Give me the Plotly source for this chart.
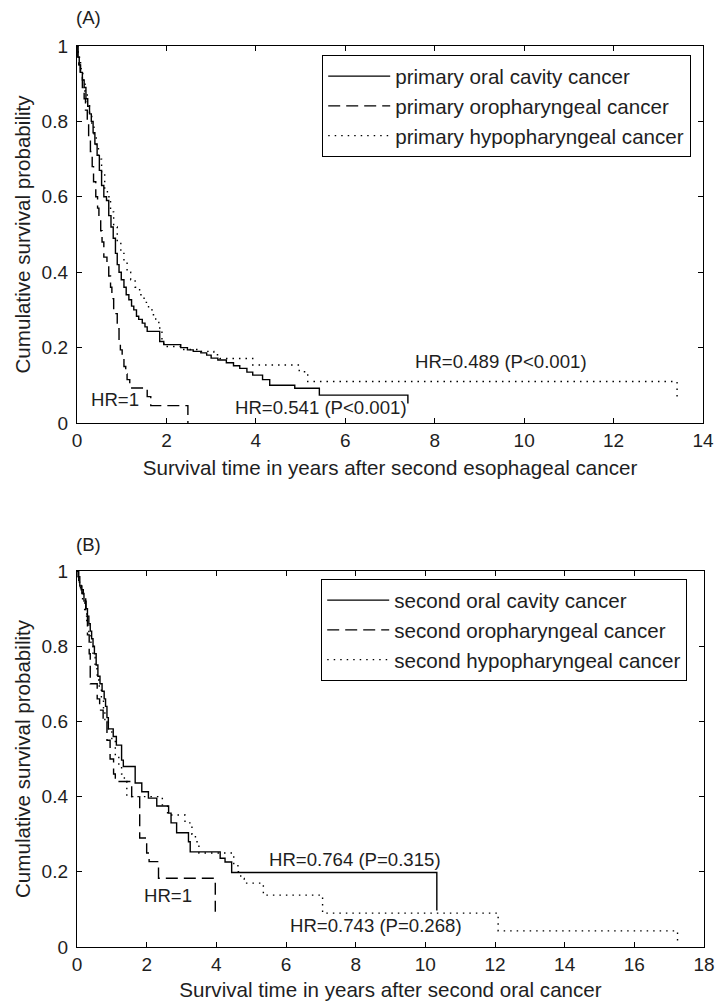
import plotly.graph_objects as go

# ---------------- Panel A data (primary cancer groups) ----------------
a_oral_t = [0, 0.02, 0.05, 0.08, 0.12, 0.16, 0.2, 0.24, 0.28, 0.32, 0.36, 0.4, 0.45, 0.5, 0.55, 0.6,
            0.66, 0.71, 0.76, 0.81, 0.86, 0.9, 0.94, 0.99, 1.05, 1.1, 1.16, 1.22, 1.27, 1.33, 1.38,
            1.46, 1.52, 1.57, 1.85, 1.94, 2.32, 2.47, 2.6, 2.77, 2.9, 3.0, 3.15, 3.34, 3.5, 3.64,
            3.8, 3.93, 4.15, 4.31, 4.87, 5.42, 7.4]
a_oral_s = [1, 0.97, 0.95, 0.93, 0.91, 0.89, 0.86, 0.84, 0.82, 0.80, 0.77, 0.74, 0.71, 0.67, 0.63, 0.60,
            0.59, 0.55, 0.52, 0.49, 0.45, 0.42, 0.40, 0.38, 0.36, 0.34, 0.327, 0.31, 0.30, 0.283, 0.275,
            0.265, 0.255, 0.243, 0.216, 0.208, 0.200, 0.194, 0.19, 0.186, 0.18, 0.172, 0.167, 0.16, 0.152, 0.145,
            0.135, 0.127, 0.115, 0.1, 0.092, 0.074, 0.052]

a_oro_t = [0, 0.02, 0.04, 0.07, 0.12, 0.16, 0.19, 0.23, 0.26, 0.3, 0.34, 0.37, 0.42, 0.46, 0.49, 0.53,
           0.56, 0.6, 0.67, 0.71, 0.75, 0.78, 0.82, 0.9, 0.94, 0.97, 1.01, 1.05, 1.09, 1.12, 1.18,
           1.57, 1.65, 2.48]
a_oro_s = [1, 0.97, 0.95, 0.92, 0.89, 0.86, 0.83, 0.8, 0.76, 0.72, 0.68, 0.64, 0.6, 0.57, 0.54, 0.51,
           0.48, 0.44, 0.42, 0.39, 0.36, 0.33, 0.29, 0.25, 0.22, 0.194, 0.17, 0.15, 0.13, 0.115, 0.093,
           0.07, 0.046, 0.0]

a_hypo_t = [0, 0.03, 0.08, 0.13, 0.18, 0.23, 0.28, 0.33, 0.38, 0.43, 0.48, 0.55, 0.62, 0.68, 0.75,
            0.82, 0.9, 0.98, 1.05, 1.12, 1.2, 1.3, 1.4, 1.5, 1.6, 1.68, 1.76, 1.83, 1.9, 1.94, 2.35,
            2.77, 3.06, 3.2, 3.93, 4.97, 5.16, 13.42]
a_hypo_s = [1, 0.97, 0.94, 0.91, 0.88, 0.85, 0.82, 0.79, 0.76, 0.73, 0.70, 0.66, 0.62, 0.6, 0.56,
            0.52, 0.48, 0.45, 0.43, 0.40, 0.38, 0.36, 0.34, 0.32, 0.30, 0.287, 0.27, 0.252, 0.22, 0.203, 0.195,
            0.19, 0.181, 0.171, 0.154, 0.136, 0.11, 0.057]

# ---------------- Panel B data (second cancer groups) ----------------
b_oral_t = [0, 0.03, 0.08, 0.14, 0.2, 0.26, 0.3, 0.34, 0.38, 0.42, 0.46, 0.5, 0.55, 0.6, 0.66, 0.72,
            0.78, 0.82, 0.86, 0.9, 1.04, 1.13, 1.28, 1.33, 1.67, 1.86, 2.05, 2.29, 2.63, 2.7, 2.86,
            3.2, 3.25, 4.11, 4.25, 4.44, 10.33]
b_oral_s = [1, 0.985, 0.96, 0.94, 0.92, 0.9, 0.88, 0.86, 0.84, 0.82, 0.8, 0.78, 0.75, 0.72, 0.70, 0.68,
            0.66, 0.64, 0.61, 0.58, 0.56, 0.537, 0.497, 0.48, 0.436, 0.413, 0.396, 0.375, 0.356, 0.33, 0.304,
            0.28, 0.253, 0.236, 0.226, 0.198, 0.097]

b_oro_t = [0, 0.05, 0.12, 0.18, 0.25, 0.3, 0.35, 0.38, 0.58, 0.65, 0.75, 0.86, 0.95, 1.05, 1.1,
           1.57, 1.8, 2.0, 2.07, 2.34, 3.97]
b_oro_s = [1, 0.97, 0.95, 0.93, 0.88, 0.83, 0.78, 0.70, 0.66, 0.63, 0.6, 0.55, 0.5, 0.46, 0.44,
           0.40, 0.29, 0.25, 0.227, 0.183, 0.094]

b_hypo_t = [0, 0.04, 0.1, 0.16, 0.22, 0.28, 0.34, 0.4, 0.46, 0.52, 0.58, 0.64, 0.7, 0.76, 0.8, 0.9,
            1.0, 1.1, 1.2, 1.28, 1.36, 1.43, 2.45, 2.6, 3.1, 3.3, 3.4, 3.5, 4.5, 4.62, 4.7, 4.8, 5.35,
            7.05, 12.09, 17.24]
b_hypo_s = [1, 0.97, 0.95, 0.92, 0.89, 0.86, 0.83, 0.8, 0.77, 0.74, 0.71, 0.69, 0.66, 0.63, 0.6, 0.58,
            0.55, 0.51, 0.48, 0.46, 0.44, 0.40, 0.378, 0.351, 0.33, 0.30, 0.28, 0.25, 0.22, 0.2, 0.182, 0.17, 0.138,
            0.09, 0.043, 0.014]

# Text
a_names = ["primary oral cavity cancer", "primary oropharyngeal cancer", "primary hypopharyngeal cancer"]
b_names = ["second oral cavity cancer", "second oropharyngeal cancer", "second hypopharyngeal cancer"]
a_xtitle = "Survival time in years after second esophageal cancer"
b_xtitle = "Survival time in years after second oral cancer"
ytitle = "Cumulative survival probability"
a_xticks = [0, 2, 4, 6, 8, 10, 12, 14]
b_xticks = [0, 2, 4, 6, 8, 10, 12, 14, 16, 18]
yticks = [0, 0.2, 0.4, 0.6, 0.8, 1]
ytick_text = ["0", "0.2", "0.4", "0.6", "0.8", "1"]

a_hr_labels = ["HR=1", "HR=0.541 (P<0.001)", "HR=0.489 (P<0.001)"]
a_hr_pos = [(0.85, 0.061), (5.45, 0.042), (9.49, 0.162)]
b_hr_labels = ["HR=1", "HR=0.764 (P=0.315)", "HR=0.743 (P=0.268)"]
b_hr_pos = [(2.6, 0.137), (7.99, 0.233), (8.57, 0.057)]

# ---------------- figure ----------------
W, H = 715, 1004
FONT = "Liberation Sans, Arial, sans-serif"
TXT = "#1e1e1e"
dashes = ["solid", "12px,6px", "1.5px,5px"]

fig = go.Figure()

for (t, s), name, d in zip([(a_oral_t, a_oral_s), (a_oro_t, a_oro_s), (a_hypo_t, a_hypo_s)], a_names, dashes):
    fig.add_trace(go.Scatter(x=t, y=s, mode="lines", name=name, line_shape="hv",
                             line=dict(color="black", width=1.4, dash=d),
                             xaxis="x", yaxis="y", legend="legend", hoverinfo="skip"))
for (t, s), name, d in zip([(b_oral_t, b_oral_s), (b_oro_t, b_oro_s), (b_hypo_t, b_hypo_s)], b_names, dashes):
    fig.add_trace(go.Scatter(x=t, y=s, mode="lines", name=name, line_shape="hv",
                             line=dict(color="black", width=1.4, dash=d),
                             xaxis="x2", yaxis="y2", legend="legend2", hoverinfo="skip"))

def px(xpix):
    return xpix / W

def py(ypix):
    return 1 - ypix / H

axis_common = dict(showline=True, linecolor="black", linewidth=1.4, mirror="allticks",
                   ticks="inside", ticklen=5, tickwidth=1.2, tickcolor="black",
                   showgrid=False, zeroline=False, automargin=False,
                   tickfont=dict(family=FONT, size=19, color=TXT))
TF = 20.6
LF = 20.6

fig.update_layout(
    width=W, height=H,
    margin=dict(l=0, r=0, t=0, b=0, autoexpand=False),
    paper_bgcolor="white", plot_bgcolor="white",
    font=dict(family=FONT, size=19, color=TXT),
    xaxis=dict(domain=[px(77), px(703)], range=[0, 14], tickvals=a_xticks, anchor="y",
               title=dict(text=a_xtitle, font=dict(size=TF), standoff=10), **axis_common),
    yaxis=dict(domain=[py(423), py(46)], range=[0, 1], tickvals=yticks, ticktext=ytick_text, anchor="x",
               title=dict(text=ytitle, font=dict(size=TF), standoff=5), ticklabelstandoff=4, **axis_common),
    xaxis2=dict(domain=[px(77), px(704)], range=[0, 18], tickvals=b_xticks, anchor="y2",
                title=dict(text=b_xtitle, font=dict(size=TF), standoff=8), **axis_common),
    yaxis2=dict(domain=[py(947), py(571)], range=[0, 1], tickvals=yticks, ticktext=ytick_text, anchor="x2",
                title=dict(text=ytitle, font=dict(size=TF), standoff=5), ticklabelstandoff=4, **axis_common),
    legend=dict(x=px(322), y=py(55), xanchor="left", yanchor="top",
                bgcolor="white", bordercolor="black", borderwidth=1.2,
                font=dict(family=FONT, size=LF, color=TXT), itemwidth=62, tracegroupgap=0),
    legend2=dict(x=px(321), y=py(579), xanchor="left", yanchor="top",
                 bgcolor="white", bordercolor="black", borderwidth=1.2,
                 font=dict(family=FONT, size=LF, color=TXT), itemwidth=62, tracegroupgap=0),
    showlegend=True,
)

annotations = [
    dict(text="(A)", x=px(88), y=py(18), xref="paper", yref="paper", showarrow=False,
         xanchor="center", yanchor="middle", font=dict(size=18.6, color=TXT, family=FONT)),
    dict(text="(B)", x=px(88), y=py(544), xref="paper", yref="paper", showarrow=False,
         xanchor="center", yanchor="middle", font=dict(size=18.6, color=TXT, family=FONT)),
]
for lab, (x, y) in zip(a_hr_labels, a_hr_pos):
    annotations.append(dict(text=lab, x=x, y=y, xref="x", yref="y", showarrow=False,
                            xanchor="center", yanchor="middle",
                            font=dict(size=18.6, color=TXT, family=FONT)))
for lab, (x, y) in zip(b_hr_labels, b_hr_pos):
    annotations.append(dict(text=lab, x=x, y=y, xref="x2", yref="y2", showarrow=False,
                            xanchor="center", yanchor="middle",
                            font=dict(size=18.6, color=TXT, family=FONT)))
fig.update_layout(annotations=annotations)

# remove the browser's default page margin so the figure sits at the window's top-left corner
fig.write_html("out.html",
               config={"displayModeBar": False},
               post_script="document.body.style.margin='0px';document.body.style.overflow='hidden';")
